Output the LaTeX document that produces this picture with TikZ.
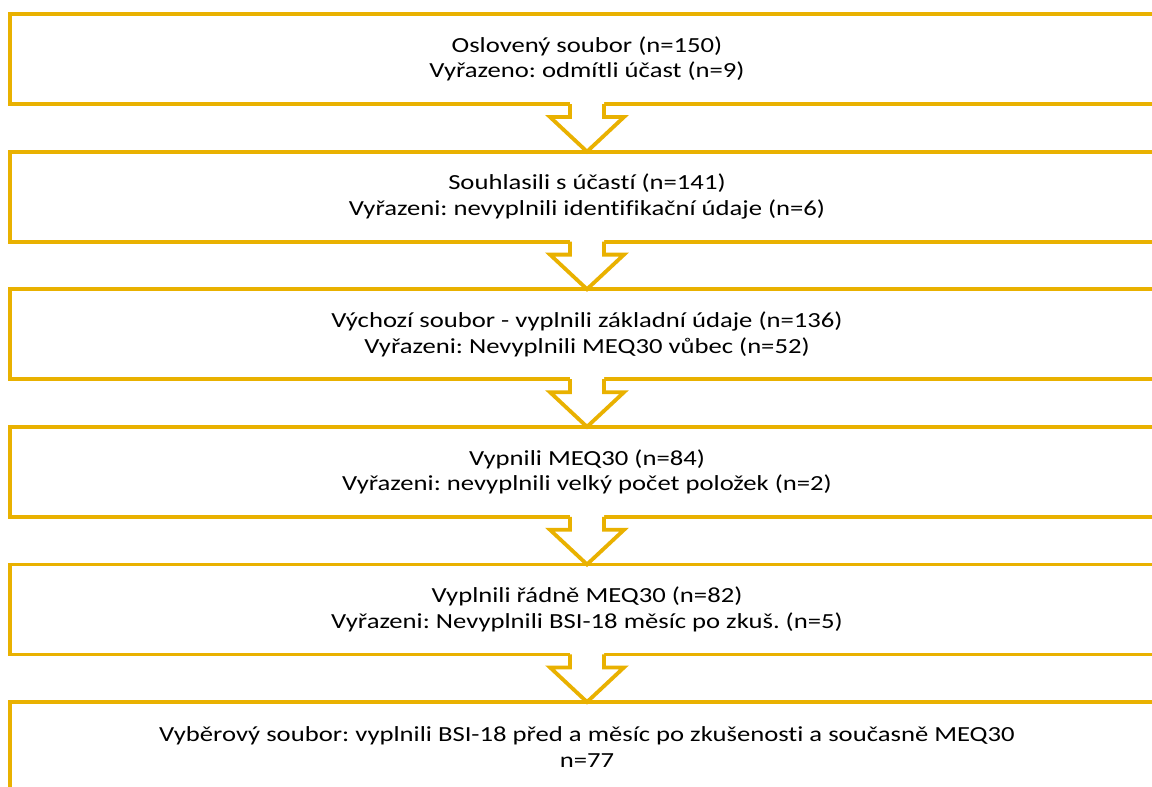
\documentclass[tikz,border=0pt]{standalone}
\usepackage{fontspec}
\setmainfont{Carlito}[Ligatures={NoCommon,NoRequired,NoContextual},FakeStretch=1.24]
\frenchspacing
\usetikzlibrary{calc}
\definecolor{gold}{RGB}{233,177,0}
\tikzset{
  box/.style={draw=gold, line width=3.8pt, minimum width=1154pt, minimum height=90pt,
    inner sep=0pt, outer sep=0pt, align=center, font=\fontsize{21.5}{25.5}\selectfont, text=black},
  arrowline/.style={draw=gold, line width=3.8pt, miter limit=20},
}
\newcommand\flowarr[2]{%
  \path (#1.south) coordinate (ft) (#2.north) coordinate (fb);
  \fill[white] ($(ft)+(-17,-3)$) -- ($(ft)+(-17,13)$) -- ($(ft)+(-37,13)$) -- (fb)
     -- ($(ft)+(37,13)$) -- ($(ft)+(17,13)$) -- ($(ft)+(17,-3)$) -- cycle;
  \draw[arrowline] ($(ft)+(-17,0)$) -- ($(ft)+(-17,13)$) -- ($(ft)+(-37,13)$) -- (fb)
     -- ($(ft)+(37,13)$) -- ($(ft)+(17,13)$) -- ($(ft)+(17,0)$);
}
\begin{document}
\begin{tikzpicture}[x=1pt,y=-1pt]
\useasboundingbox (0,0) rectangle (1152,787);
\clip (0,0) rectangle (1152,787);
\fill[white] (0,0) rectangle (1152,787);
\node[box] (b1) at (587,59) {Oslovený soubor (n=150)\\Vyřazeno: odmítli účast (n=9)};
\node[box] (b2) at (587,196.6) {Souhlasili s účastí (n=141)\\Vyřazeni: nevyplnili identifikační údaje (n=6)};
\node[box] (b3) at (587,334.2) {Výchozí soubor - vyplnili základní údaje (n=136)\\Vyřazeni: Nevyplnili MEQ30 vůbec (n=52)};
\node[box] (b4) at (587,471.8) {Vypnili MEQ30 (n=84)\\Vyřazeni: nevyplnili velký počet položek (n=2)};
\node[box] (b5) at (587,609.4) {Vyplnili řádně MEQ30 (n=82)\\Vyřazeni: Nevyplnili BSI-18 měsíc po zkuš. (n=5)};
\node[box] (b6) at (587,747) {Vyběrový soubor: vyplnili BSI-18 před a měsíc po zkušenosti a současně MEQ30\\n=77};
\flowarr{b1}{b2}
\flowarr{b2}{b3}
\flowarr{b3}{b4}
\flowarr{b4}{b5}
\flowarr{b5}{b6}
\end{tikzpicture}
\end{document}
